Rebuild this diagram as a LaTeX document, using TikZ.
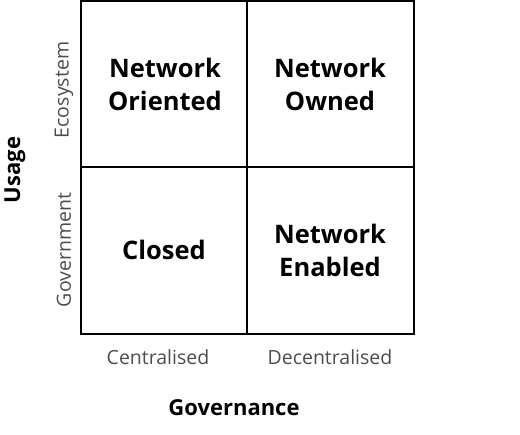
\documentclass[tikz,border=0pt]{standalone}
\usepackage{fontspec}
\setmainfont{Open Sans}
\usetikzlibrary{calc}

\begin{document}
\begin{tikzpicture}[x=1pt, y=-1pt,
  quad/.style={font=\fontsize{25.5}{33}\selectfont\bfseries, align=center},
  axislabel/.style={font=\fontsize{19.5}{22}\selectfont, text=black!70},
  axistitle/.style={font=\fontsize{22}{26}\selectfont\bfseries}]
\useasboundingbox (0,0) rectangle (520,435);
% grid
\draw[line width=1.3pt] (81,1) rectangle (414,334);
\draw[line width=1.3pt] (247,1) -- (247,334);
\draw[line width=1.3pt] (81,167) -- (414,167);
% quadrants
\node[quad] (orient) at (165,84) {Network\\Oriented};
\node[quad] (owned) at (330,84) {Network\\Owned};
\node[quad] (closed) at (164,250) {Closed};
\node[quad] (enabled) at (330,250) {Network\\Enabled};
% axes
\node[axislabel, rotate=90] (eco) at (64,90) {Ecosystem};
\node[axislabel, rotate=90] (gov) at (64,250) {Government};
\node[axistitle, rotate=90] (usage) at (15,170) {Usage};
\node[axislabel] (cent) at (158,357) {Centralised};
\node[axislabel] (decent) at (330,357) {Decentralised};
\node[axistitle] (governance) at (234,408) {Governance};
\end{tikzpicture}
\end{document}
